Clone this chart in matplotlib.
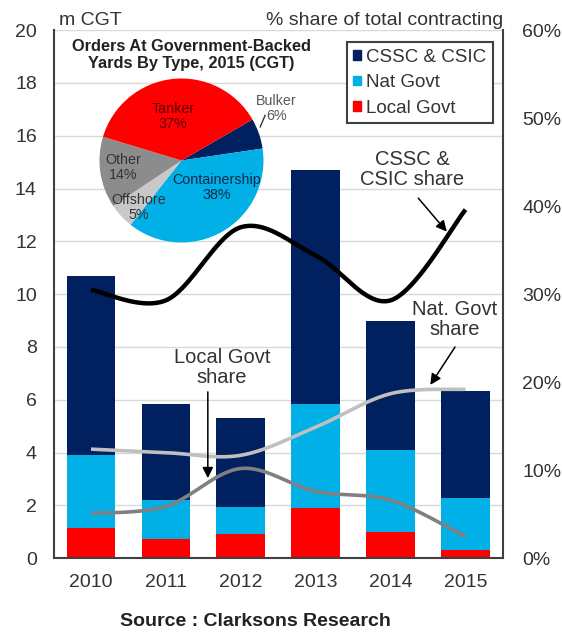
import numpy as np
import matplotlib
matplotlib.use("Agg")
import matplotlib.pyplot as plt
from matplotlib.patches import Patch

plt.rcParams['font.family'] = ['Liberation Sans', 'DejaVu Sans']

years = ['2010', '2011', '2012', '2013', '2014', '2015']
local_govt = [1.13, 0.73, 0.92, 1.89, 1.01, 0.30]
nat_govt = [2.78, 1.48, 1.01, 3.95, 3.09, 1.97]
cssc_csic = [6.79, 3.63, 3.37, 8.86, 4.89, 4.07]

cssc_share = [30.5, 29.3, 37.6, 34.4, 29.3, 39.6]
nat_share = [12.4, 12.0, 11.7, 14.9, 18.7, 19.2]
local_share = [5.1, 5.9, 10.2, 7.6, 6.6, 2.45]

pie_labels = ['Bulker', 'Containership', 'Offshore', 'Other', 'Tanker']
pie_values = [6, 38, 5, 14, 37]

C_NAVY = '#002060'
C_CYAN = '#00b0e6'
C_RED = '#ff0000'
TXT = '#333333'


def smooth(xs, ys, n=40):
    P = np.column_stack([xs, ys]).astype(float)
    ext = np.vstack([P[0], P, P[-1]])
    out = []
    t = np.linspace(0, 1, n)[:, None]
    for i in range(len(P) - 1):
        p0, p1, p2, p3 = ext[i], ext[i + 1], ext[i + 2], ext[i + 3]
        c1 = p1 + (p2 - p0) / 6
        c2 = p2 - (p3 - p1) / 6
        seg = (1 - t) ** 3 * p1 + 3 * (1 - t) ** 2 * t * c1 + 3 * (1 - t) * t ** 2 * c2 + t ** 3 * p2
        out.append(seg if i == 0 else seg[1:])
    return np.vstack(out)


fig = plt.figure(figsize=(5.62, 6.32), dpi=100)
ax = fig.add_axes([0.0952, 0.1166, 0.7998, 0.8359])
x = np.arange(len(years))
w = 0.65

ax.bar(x, local_govt, w, color=C_RED, zorder=2)
b2 = np.array(local_govt)
ax.bar(x, nat_govt, w, bottom=b2, color=C_CYAN, zorder=2)
b3 = b2 + np.array(nat_govt)
ax.bar(x, cssc_csic, w, bottom=b3, color=C_NAVY, zorder=2)

ax.set_xlim(-0.5, 5.5)
ax.set_ylim(0, 20)
ax.set_yticks(np.arange(0, 21, 2))
ax.set_xticks(x)
ax.set_xticklabels(years)
ax.yaxis.grid(True, color='#d9d9d9', lw=1, zorder=0)
ax.set_axisbelow(True)
ax.tick_params(axis='y', length=0, pad=12, labelsize=14, labelcolor=TXT)
ax.tick_params(axis='x', length=0, pad=11, labelsize=14, labelcolor=TXT)
for s in ['top', 'right']:
    ax.spines[s].set_visible(False)
for s in ['left', 'bottom']:
    ax.spines[s].set_color('#404040')
    ax.spines[s].set_linewidth(1.5)

ax2 = ax.twinx()
ax2.set_ylim(0, 60)
ax2.set_yticks(np.arange(0, 61, 10))
ax2.set_yticklabels([f'{v}%' for v in range(0, 61, 10)])
ax2.tick_params(axis='y', length=0, pad=14, labelsize=14, labelcolor=TXT)
for s in ['top', 'left', 'bottom']:
    ax2.spines[s].set_visible(False)
ax2.spines['right'].set_color('#404040')
ax2.spines['right'].set_linewidth(1.5)

for vals, col, lw in [(nat_share, '#c0c0c0', 2.6), (local_share, '#808080', 2.6), (cssc_share, 'black', 3.2)]:
    c = smooth(x, vals)
    ax2.plot(c[:, 0], c[:, 1], color=col, lw=lw, solid_capstyle='butt', zorder=3)

arrow = dict(arrowstyle='-|>', color='black', lw=1.1, mutation_scale=16, shrinkA=0, shrinkB=0)
ann_fs = 14.5
ax2.text(4.29, 44.2, 'CSSC &\nCSIC share', ha='center', va='center', fontsize=ann_fs, color=TXT, linespacing=1.05)
ax2.annotate('', xy=(4.75, 37.1), xytext=(4.37, 40.9), arrowprops=arrow)
ax2.text(4.86, 27.1, 'Nat. Govt\nshare', ha='center', va='center', fontsize=ann_fs, color=TXT, linespacing=1.05)
ax2.annotate('', xy=(4.53, 19.7), xytext=(4.86, 24.0), arrowprops=arrow)
ax2.text(1.75, 21.7, 'Local Govt\nshare', ha='center', va='center', fontsize=ann_fs, color=TXT, linespacing=1.05)
ax2.annotate('', xy=(1.56, 9.1), xytext=(1.56, 18.9), arrowprops=arrow)

handles = [Patch(color=C_NAVY, label='CSSC & CSIC'), Patch(color=C_CYAN, label='Nat Govt'),
           Patch(color=C_RED, label='Local Govt')]
leg = ax2.legend(handles=handles, loc='upper right', bbox_to_anchor=(0.978, 0.977), borderaxespad=0,
                 fontsize=13.5, handlelength=0.4, handleheight=0.4, handletextpad=0.3,
                 labelspacing=0.45, borderpad=0.35, fancybox=False, framealpha=1, edgecolor='#404040')
leg.get_frame().set_linewidth(1.5)
for t in leg.get_texts():
    t.set_color(TXT)

fig.text(59 / 562, 1 - 25 / 632, 'm CGT', ha='left', va='baseline', fontsize=14, color=TXT)
fig.text(503 / 562, 1 - 25 / 632, '% share of total contracting', ha='right', va='baseline', fontsize=14, color=TXT)
fig.text(255 / 562, 1 - 622 / 632, 'Source : Clarksons Research', ha='center', va='center', fontsize=14,
         fontweight='bold', color='#222222')

# Pie inset
pax = fig.add_axes([0.177, 0.6163, 0.2918, 0.2595])
pie_colors = [C_NAVY, C_CYAN, '#c8c8c8', '#8c8c8c', C_RED]
pax.pie(pie_values, colors=pie_colors, startangle=30, counterclock=False, radius=1,
        wedgeprops=dict(linewidth=0))
pax.set_xlim(-1, 1)
pax.set_ylim(-1, 1)
pax.set_aspect('equal')
pax.axis('off')
pfs = 10.3
pax.text(-0.10, 0.54, 'Tanker\n37%', ha='center', va='center', fontsize=pfs, color='#5a0000', linespacing=1.1)
pax.text(0.43, -0.33, 'Containership\n38%', ha='center', va='center', fontsize=pfs, color='#0d2a4a', linespacing=1.1)
pax.text(-0.71, -0.085, 'Other\n14%', ha='center', va='center', fontsize=pfs, color='#333333', linespacing=1.1)
pax.text(-0.52, -0.57, 'Offshore\n5%', ha='center', va='center', fontsize=pfs, color='#333333', linespacing=1.1)
pax.text(1.16, 0.63, 'Bulker\n6%', ha='center', va='center', fontsize=pfs, color='#595959', linespacing=1.1,
         clip_on=False)
pax.plot([0.96, 1.02], [0.41, 0.55], color='#333333', lw=1, clip_on=False)

fig.text(191 / 562, 1 - 55 / 632, 'Orders At Government-Backed\nYards By Type, 2015 (CGT)', ha='center',
         va='center', fontsize=11.8, fontweight='bold', color='#222222', linespacing=1.2)

fig.savefig('out.png', dpi=100)
